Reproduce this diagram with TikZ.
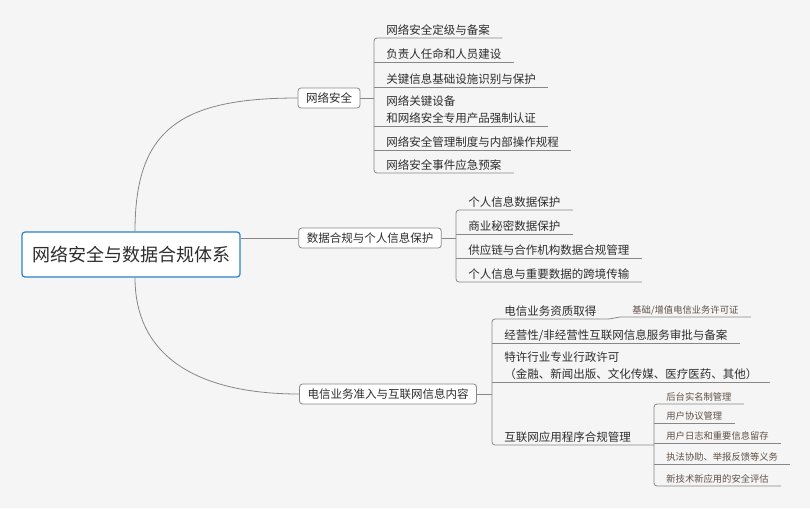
\documentclass[tikz,border=0pt]{standalone}
\usepackage{fontspec}
\usepackage[dvipsnames]{xcolor}
\newfontfamily\cjk{Noto Sans CJK SC}
\definecolor{bgcol}{RGB}{245,245,245}
\definecolor{linecol}{RGB}{135,135,135}
\definecolor{topcol}{RGB}{40,130,200}
\definecolor{txtcol}{RGB}{45,45,45}
\definecolor{subcol}{RGB}{95,80,70}

\begin{document}
\begin{tikzpicture}[x=1pt,y=-1pt,line width=0.8pt,
    root node/.style={draw=topcol,line width=1.2pt,rounded corners=3pt,fill=white,minimum width=218pt,minimum height=45pt,font=\cjk\fontsize{18}{22}\selectfont,text=txtcol},
    main node/.style={draw=linecol,rounded corners=3pt,fill=white,minimum height=20pt,inner xsep=8pt,font=\cjk\fontsize{11.5}{14}\selectfont,text=txtcol},
    leaf/.style={anchor=south west,inner xsep=12pt,inner ysep=3pt,text depth=0pt,align=left,font=\cjk\fontsize{11.5}{17}\selectfont,text=txtcol},
    small leaf/.style={leaf,font=\cjk\fontsize{9.3}{12}\selectfont,text=subcol},
    link/.style={draw=linecol}]

                \fill[bgcol] (0,0) rectangle (810,508);
                \useasboundingbox (0,0) rectangle (810,508);

                \node[root node] (0) at (131,254.5) {网络安全与数据合规体系};
                \node[main node] (1) at (329,98) {网络安全};
                \node[main node] (2) at (370,238) {数据合规与个人信息保护};
                \node[main node] (3) at (388,394) {电信业务准入与互联网信息内容};

                % 网络安全
                \node[leaf] (11) at (374,38) {网络安全定级与备案};
                \node[leaf] (12) at (374,62) {负责人任命和人员建设};
                \node[leaf] (13) at (374,87) {关键信息基础设施识别与保护};
                \node[leaf] (14) at (374,126) {网络关键设备\\和网络安全专用产品强制认证};
                \node[leaf] (15) at (374,150) {网络安全管理制度与内部操作规程};
                \node[leaf] (16) at (374,173) {网络安全事件应急预案};

                % 数据合规
                \node[leaf] (21) at (456,210) {个人信息数据保护};
                \node[leaf] (22) at (456,234) {商业秘密数据保护};
                \node[leaf] (23) at (456,258) {供应链与合作机构数据合规管理};
                \node[leaf] (24) at (456,282) {个人信息与重要数据的跨境传输};

                % 电信业务
                \node[leaf] (31) at (492,319) {电信业务资质取得};
                \node[leaf] (32) at (492,343) {经营性/非经营性互联网信息服务审批与备案};
                \node[leaf] (33) at (492,382) {特许行业专业行政许可\\（金融、新闻出版、文化传媒、医疗医药、其他）};
                \node[leaf] (34) at (492,445) {互联网应用程序合规管理};
                \node[small leaf] (311) at (620,317) {基础/增值电信业务许可证};
                \node[small leaf] (341) at (654,404) {后台实名制管理};
                \node[small leaf] (342) at (654,423) {用户协议管理};
                \node[small leaf] (343) at (654,443) {用户日志和重要信息留存};
                \node[small leaf] (344) at (654,464) {执法协助、举报反馈等义务};
                \node[small leaf] (345) at (654,486) {新技术新应用的安全评估};

                \draw[link] ([xshift=4pt]0.north) .. controls +(0,-100) and +(-120,0) .. (1.west);
                \draw[link] ([xshift=4pt]0.south) .. controls +(0,80) and +(-100,0) .. (3.west);
                \path[link]
                    (0.east |- 2) edge (2)
                    (1) edge (1 -| 11.south west)
                    (2) edge (2 -| 21.south west)
                    (3) edge (3 -| 31.south west)
                ;

                \draw[link,rounded corners=3pt] (11.south east) -- (11.south west) -- (16.south west) -- (16.south east);
                \draw[link,rounded corners=3pt] (21.south east) -- (21.south west) -- (24.south west) -- (24.south east);
                \draw[link,rounded corners=3pt] (31.south east) -- (31.south west) -- (34.south west) -- (34.south west -| 341.south west);
                \draw[link,rounded corners=3pt] (341.south east) -- (341.south west) -- (345.south west) -- (345.south east);
                \draw[link] (31.south east) -- (311.south west) -- (311.south east);
                \foreach \i in {12,...,15,22,23,32,33,342,343,344}
                    \draw[link] (\i.south west) -- (\i.south east);
            \end{tikzpicture}
\end{document}
